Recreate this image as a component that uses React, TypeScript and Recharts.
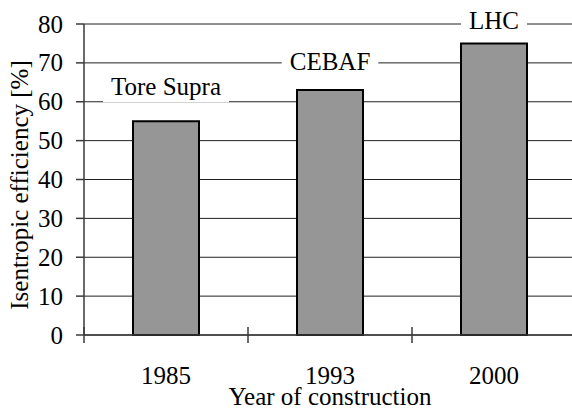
import { BarChart, Bar, XAxis, YAxis, CartesianGrid, ReferenceDot, Label } from 'recharts';

const years = ['1985', '1993', '2000'];
const efficiency = [55, 63, 75];
const machines = ['Tore Supra', 'CEBAF', 'LHC'];
// height (in % units) at which each machine name sits
const labelLevels = [64, 70.4, 80.8];
const yTicks = [0, 10, 20, 30, 40, 50, 60, 70, 80];

const data = years.map((year, i) => ({ year, efficiency: efficiency[i] }));

const FONT = '"Liberation Serif", "Times New Roman", Times, serif';
const AXIS = '#3a3a3a';
const FS = 25;
const textStyle = { fontFamily: FONT, fontSize: FS, fill: '#000' };

let ctx: CanvasRenderingContext2D | null = null;
function textWidth(s: string, size: number) {
  if (!ctx) ctx = document.createElement('canvas').getContext('2d');
  if (!ctx) return s.length * size * 0.5;
  ctx.font = `${size}px "Liberation Serif"`;
  return ctx.measureText(s).width;
}

function MachineLabel({ cx, cy, name }: { cx: number; cy: number; name: string }) {
  const w = textWidth(name, FS) + 16;
  return (
    <g>
      <rect x={cx - w / 2} y={cy - 16} width={w} height={32} fill="#fff" />
      <text x={cx} y={cy + 8.5} textAnchor="middle" fontFamily={FONT} style={textStyle}>
        {name}
      </text>
    </g>
  );
}

function YearTick(props: any) {
  const { x, y, payload } = props;
  const half = payload?.offset ?? 0;
  return (
    <g>
      <line x1={x - half} x2={x - half} y1={y - 8} y2={y + 8} stroke={AXIS} strokeWidth={1.5} />
      <text x={x} y={y + 48.5} textAnchor="middle" fontFamily={FONT} style={textStyle}>
        {payload.value}
      </text>
    </g>
  );
}

function ValueTick(props: any) {
  const { x, y, payload } = props;
  return (
    <text x={x} y={y + 8.5} textAnchor="end" fontFamily={FONT} style={textStyle}>
      {payload.value}
    </text>
  );
}

export default function App() {
  return (
    <div
      style={{
        position: 'absolute',
        left: 0,
        top: 0,
        width: 572,
        height: 412,
        overflow: 'hidden',
        background: '#fff',
        fontFamily: FONT,
      }}
    >
      <style>{`svg text, svg tspan { font-family: "Liberation Serif", "Times New Roman", serif !important; }`}</style>
      <BarChart width={580} height={412} data={data} margin={{ top: 24, right: 4, left: 0, bottom: 0 }}>
        <CartesianGrid vertical={false} stroke="#222" strokeWidth={1} />
        <XAxis
          dataKey="year"
          height={77}
          tickSize={0}
          tickMargin={0}
          tickLine={false}
          interval={0}
          tick={<YearTick />}
          axisLine={{ stroke: AXIS, strokeWidth: 1.5 }}
        >
          <Label
            content={({ viewBox }: any) => (
              <text
                x={viewBox.x + viewBox.width / 2}
                y={viewBox.y + 70}
                textAnchor="middle"
                fontFamily={FONT}
                style={textStyle}
              >
                Year of construction
              </text>
            )}
          />
        </XAxis>
        <YAxis
          domain={[0, 80]}
          ticks={yTicks}
          interval={0}
          width={84}
          tickSize={8}
          tickMargin={13}
          axisLine={{ stroke: AXIS, strokeWidth: 1.5 }}
          tickLine={{ stroke: AXIS, strokeWidth: 1.5 }}
          tick={<ValueTick />}
        >
          <Label
            content={({ viewBox }: any) => (
              <text
                transform={`translate(${viewBox.x + 28}, ${viewBox.y + viewBox.height / 2 + 5.5}) rotate(-90)`}
                textAnchor="middle"
                fontFamily={FONT}
                style={textStyle}
              >
                Isentropic efficiency [%]
              </text>
            )}
          />
        </YAxis>
        <Bar
          dataKey="efficiency"
          fill="#969696"
          stroke="#000"
          strokeWidth={2}
          barSize={66}
          isAnimationActive={false}
        />
        {machines.map((name, i) => (
          <ReferenceDot
            key={name}
            x={years[i]}
            y={labelLevels[i]}
            ifOverflow="visible"
            shape={(p: any) => <MachineLabel cx={p.cx} cy={p.cy} name={name} />}
          />
        ))}
      </BarChart>
    </div>
  );
}
